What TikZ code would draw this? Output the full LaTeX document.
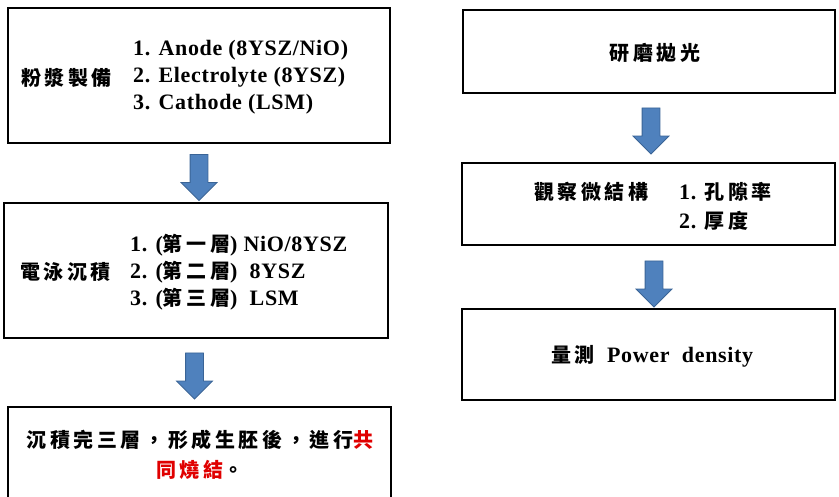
\documentclass[tikz,border=0pt]{standalone}
\usepackage{fontspec}
\setmainfont{Liberation Serif}[LetterSpace=3]
\newfontfamily\cjkfam[LetterSpace=18]{Noto Sans CJK TC}
\usetikzlibrary{shapes.arrows}
\definecolor{arrfill}{HTML}{4F81BD}
\definecolor{arrdraw}{HTML}{3A6496}
\definecolor{redtxt}{HTML}{E00000}
\newcommand\latf{\fontsize{22}{28}\selectfont\bfseries}
\newcommand\zhtxt[1]{{\cjkfam\fontsize{20}{30}\selectfont\bfseries #1}}
\tikzset{
  box/.style={draw=black, line width=2.6pt, fill=white, rectangle, inner sep=0pt},
  blockarrow/.style={single arrow, shape border rotate=270, fill=arrfill, draw=arrdraw,
    line width=0.8pt, minimum height=46pt, inner sep=8.5pt, single arrow head extend=9pt},
  txt/.style={inner sep=0pt, anchor=west, font=\latf},
}
\begin{document}
\begin{tikzpicture}[x=1pt,y=-1pt]
\useasboundingbox (0,0) rectangle (839,497);
\clip (0,0) rectangle (839,497);
% left column boxes
\node[box, minimum width=382pt, minimum height=135pt] (b1) at (199,75.5) {};
\node[box, minimum width=384pt, minimum height=135pt] (b2) at (196,270.5) {};
\node[box, minimum width=383pt, minimum height=96pt] (b3) at (199.5,455) {};
% right column boxes
\node[box, minimum width=372pt, minimum height=83pt] (b4) at (649,51.5) {};
\node[box, minimum width=373pt, minimum height=82pt] (b5) at (648.5,204) {};
\node[box, minimum width=373pt, minimum height=91pt] (b6) at (648.5,354.5) {};
% arrows
\node[blockarrow] (a1) at (199,173) {};
\node[blockarrow] (a2) at (194.5,371.5) {};
\node[blockarrow] (a3) at (651,126.5) {};
\node[blockarrow] (a4) at (654,279.5) {};
% box 1 text
\node[txt] (t1a) at (21,78) {\zhtxt{粉漿製備}};
\node[txt] (t1b) at (133,50) {1. Anode (8YSZ/NiO)};
\node[txt] (t1c) at (133,77) {2. Electrolyte (8YSZ)};
\node[txt] (t1d) at (133,104) {3. Cathode (LSM)};
% box 2 text
\node[txt] (t2a) at (20,272) {\zhtxt{電泳沉積}};
\node[txt] (t2b) at (130,245) {1. (\zhtxt{第一層}) NiO/8YSZ};
\node[txt] (t2c) at (130,272) {2. (\zhtxt{第二層})\ \ 8YSZ};
\node[txt] (t2d) at (130,299) {3. (\zhtxt{第三層})\ \ LSM};
% box 3 text
\node[inner sep=0pt, align=center, font=\fontsize{20}{30}\selectfont] (t3) at (200,455)
  {\zhtxt{沉積完三層，形成生胚後，進行{\color{redtxt}共}}\\
   \zhtxt{{\color{redtxt}同燒結}。}};
% right text
\node[inner sep=0pt] (t4) at (655,53) {\zhtxt{研磨拋光}};
\node[txt] (t5a) at (534,192) {\zhtxt{觀察微結構}};
\node[txt] (t5b) at (679,192) {1. \zhtxt{孔隙率}};
\node[txt] (t5c) at (679,221) {2. \zhtxt{厚度}};
\node[txt] (t6) at (551,356) {\zhtxt{量測}\ \ Power\ \ density};
\end{tikzpicture}
\end{document}
